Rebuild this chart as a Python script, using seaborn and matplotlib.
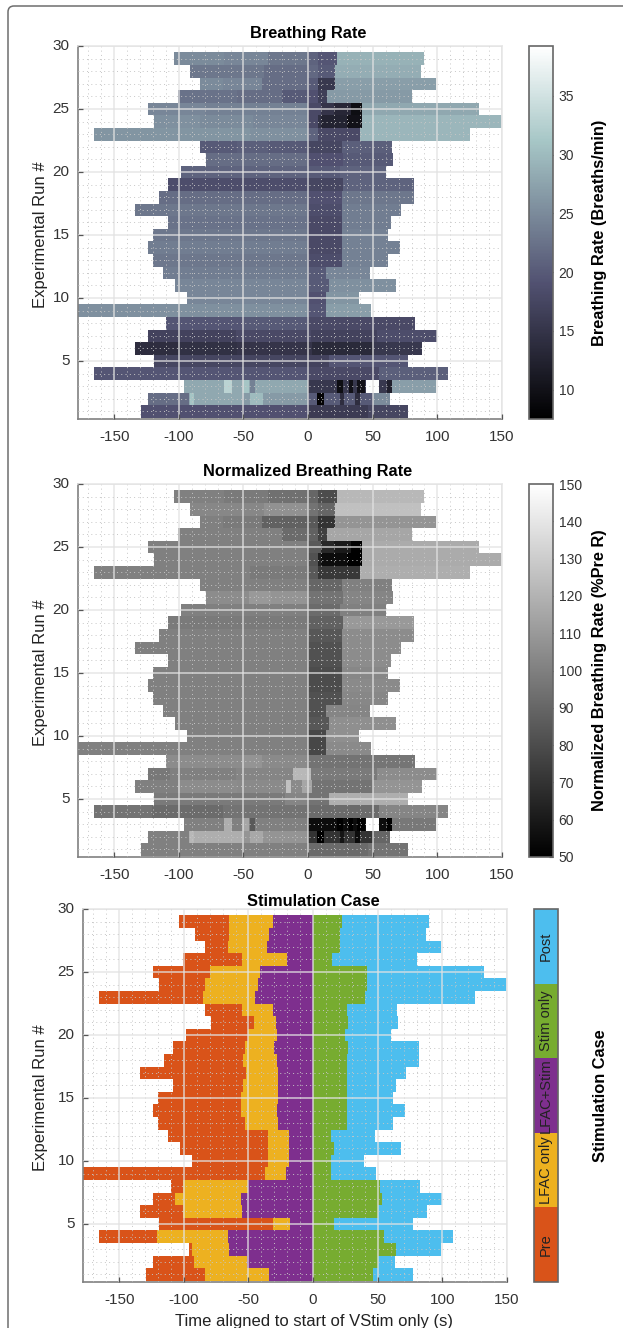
import numpy as np
import pandas as pd
import matplotlib
matplotlib.use('Agg')
import matplotlib.pyplot as plt
from matplotlib.colors import ListedColormap
from matplotlib.patches import FancyBboxPatch
import seaborn as sns

sns.set_style('white')
plt.rcParams['font.family'] = ['Liberation Sans', 'DejaVu Sans']

# run 1 to run 29, times in seconds
run_start = [-129, -124, -96, -165.5, -119, -134, -124, -109.5, -178, -94, -103, -112, -120, -124, -120,
             -108, -134, -115, -108, -98, -79, -84, -166, -119, -124, -100.5, -84, -91, -104]
pre_end = [-83.5, -92, -94, -121, -31, -100.8, -107, -100.8, -37.4, -34.5, -34.5, -34.5, -53, -55.7, -55.7,
           -53.6, -52, -54, -53, -50, -46, -55.4, -84.6, -84, -80, -55.4, -66, -65, -65]
lfac_end = [-34, -50.8, -65, -65.7, -17.5, -54.6, -56, -50, -21.4, -18.5, -19, -19, -26.5, -28, -26.5,
            -26.5, -27, -28, -29.6, -27.6, -29, -31, -44.6, -43, -41, -20, -35.6, -34, -31]
stim_end = [45.9, 50, 63.7, 54.6, 16.5, 49.7, 53.4, 52.3, 14.2, 13.7, 16.5, 14, 26, 26.3, 26.3,
            26.3, 26.3, 25.8, 27.3, 25, 27, 26.3, 40, 41.8, 42.5, 15.5, 21.4, 20.6, 22]
run_end = [77.3, 63, 99.5, 107.7, 77.3, 87.6, 100.5, 83, 49.5, 39, 68, 47.7, 62, 71.4, 62.4,
           64.4, 72, 82, 82, 60.3, 65.7, 65, 125, 150, 131.7, 80.4, 98.7, 86.9, 89.7]

# breathing rate in each phase
rate_pre = [19, 22, 28, 19.5, 17.5, 14, 17, 19.5, 25.5, 24.5, 24.5, 23.5, 23, 23.5, 23,
            22.5, 23, 22, 18.5, 21, 22, 20, 26, 25.5, 24.5, 22.5, 25, 23, 25]
rate_lfac = [19, 28, 28, 19.5, 17.5, 14.5, 17, 19.5, 25.5, 24.5, 24.5, 23.5, 23, 23.5, 23,
             22.5, 23, 22, 18.5, 21, 22, 20.5, 26, 25, 24, 22, 24.5, 23, 24.5]
rate_both = [19, 26.5, 28, 19.5, 17.5, 15, 18, 20, 25.5, 24.5, 24.5, 23.5, 23, 23.5, 23,
             22.5, 23, 22, 18.5, 21, 22, 20, 25.5, 24.5, 24, 20, 22, 22, 23]
rate_stim = [16, 20, 15.5, 18, 17, 13.5, 17, 18, 19.5, 19, 20, 20, 18.5, 18, 18,
             18, 18.5, 19, 17.5, 20, 19, 17.5, 18, 14.5, 15, 16.5, 15.5, 20, 19.5]
rate_post = [17.5, 25, 27, 20.5, 19.5, 15.5, 18.5, 18, 27, 26, 25.5, 24.5, 24, 24, 24,
             23.5, 23.5, 23, 21, 21, 20, 20.5, 29.5, 29.5, 28, 26.5, 27, 28.5, 29]

# normalized rate in each phase
norm_pre = [100, 100, 100, 95, 98, 100, 97, 105, 100, 100, 100, 100, 100, 100, 100,
            100, 100, 100, 98, 100, 105, 100, 100, 100, 100, 100, 100, 103, 100]
norm_lfac = [100, 118, 100, 92, 98, 105, 100, 105, 100, 100, 100, 100, 100, 100, 100,
             100, 100, 100, 98, 100, 110, 100, 100, 100, 100, 100, 98, 103, 98]
norm_both = [100, 108, 100, 95, 102, 104, 102, 104, 100, 100, 100, 100, 100, 100, 100,
             100, 100, 100, 98, 100, 108, 100, 98, 100, 100, 92, 88, 107, 94]
norm_stim = [92, 70, 55, 92, 95, 95, 98, 95, 78, 78, 84, 82, 82, 80, 80,
             82, 82, 84, 88, 92, 95, 90, 72, 62, 66, 75, 70, 90, 80]
norm_post = [95, 90, 97, 102, 118, 108, 105, 96, 104, 106, 106, 102, 103, 104, 103,
             105, 105, 105, 110, 100, 102, 100, 118, 117, 117, 115, 108, 125, 122]

# short bursts that sit inside a phase
spot_run = [3, 3, 3, 3, 3, 3, 3, 3, 2, 2, 2, 2, 2, 24, 25, 24, 25, 29, 28, 27, 26, 25, 24, 23, 7, 6, 6, 8]
spot_t0 = [-65, -50, -45, 22, 32, 38, 45, 61, -91, -45, 7, 25, 36, 10, 33, 30, 20, 0, 0, 0, 0, 0, 0, 0, -12, -17, -5, -50]
spot_t1 = [-59, -46, -41, 27, 35, 44, 55, 65, -88, -35, 12, 28, 40, 30, 42, 42, 33, 8, 8, 8, 8, 10, 8, 8, 2, -13, 3, -36]
spot_rate = [33, 31, 24, 9.5, 10, 10, 39, 12, 31, 30, 8, 14, 14, 12.5, 9.5, 10, 13, 21, 21.5, 20, 19, 18, 18, 21,
             18, 15, 15, 20]
spot_norm = [118, 115, 85, 50, 50, 50, 150, 50, 122, 116, 50, 58, 55, 55, 50, 50, 60, 90, 95, 85, 88, 85, 82, 85,
             122, 125, 115, 108]

case_names = ['Pre', 'LFAC only', 'LFAC+Stim', 'Stim only', 'Post']
case_colors = ['#D95319', '#EDB120', '#7E2F8E', '#77AC30', '#4DBEEE']

x_ticks = [-150, -100, -50, 0, 50, 100, 150]
y_ticks = [5, 10, 15, 20, 25, 30]
time = np.arange(-178, 150)
runs = np.arange(1, 30)
W, H = 623, 1328


def phase_table(tables):
    out = np.full((len(runs), len(time)), np.nan)
    edges = np.column_stack([run_start, pre_end, lfac_end, np.zeros(len(runs)), stim_end, run_end])
    for i in range(len(runs)):
        for p in range(5):
            on = (time + 0.5 >= edges[i, p]) & (time + 0.5 < edges[i, p + 1])
            out[i, on] = tables[p][i]
    return out


def add_spots(table, values):
    for r, a, b, v in zip(spot_run, spot_t0, spot_t1, values):
        table[r - 1, (time >= a) & (time < b)] = v
    return table


def box(l, t, r, b):
    return [l / W, 1 - b / H, (r - l) / W, (b - t) / H]


def style_axes(ax, title, left, title_pad):
    ax.set_xlim(0, len(time))
    ax.set_ylim(-0.1, 29.5)
    ax.set_xticks([v - time[0] for v in x_ticks], [str(v) for v in x_ticks], rotation=0)
    ax.set_yticks([v - 0.5 for v in y_ticks], [str(v) for v in y_ticks], rotation=0)
    ax.set_xticks(np.arange(-170, 150, 10) - time[0], minor=True)
    ax.set_yticks(np.arange(0.5, 29, 1), minor=True)
    ax.tick_params(which='major', direction='in', length=3.5, width=0.9, color='#555555',
                   labelsize=11, labelcolor='#333333', bottom=True, left=True)
    ax.tick_params(axis='x', which='major', pad=8)
    ax.tick_params(axis='y', which='major', pad=6)
    ax.tick_params(which='minor', length=0)
    ax.set_axisbelow(False)
    ax.grid(which='major', color='#e2e2e2', lw=1.1, alpha=0.85)
    ax.grid(which='minor', color='#c6c6c6', lw=0.7, ls=(0, (1, 3.4)))
    for name, spine in ax.spines.items():
        spine.set_visible(True)
        spine.set_color('#808080' if name in ('left', 'bottom') else '#e8e8e8')
        spine.set_linewidth(1.2)
    ax.set_title(title, fontsize=11.8, fontweight='bold', color='black', pad=title_pad, x=0.5425)
    ax.set_ylabel('Experimental Run #', fontsize=12, color='#222222')
    ax.yaxis.set_label_coords((48 - left) / 424, 0.493)
    ax.set_xlabel('')


def style_cbar(ax, label, ticks, pad):
    cb = ax.collections[0].colorbar
    cb.outline.set_edgecolor('#666666')
    cb.outline.set_linewidth(1.2)
    cb.set_ticks(ticks)
    cb.ax.tick_params(direction='in', length=3, width=0.8, color='#444444', labelsize=10, labelcolor='#333333', pad=4)
    cb.set_label(label, fontsize=11.8, fontweight='bold', color='black', labelpad=pad)
    return cb


rate = pd.DataFrame(add_spots(phase_table([rate_pre, rate_lfac, rate_both, rate_stim, rate_post]), spot_rate),
                    index=runs, columns=time)
norm = pd.DataFrame(add_spots(phase_table([norm_pre, norm_lfac, norm_both, norm_stim, norm_post]), spot_norm),
                    index=runs, columns=time)
case = pd.DataFrame(phase_table([[k] * len(runs) for k in range(1, 6)]), index=runs, columns=time)

fig = plt.figure(figsize=(W / 100, H / 100), dpi=100)
fig.add_artist(FancyBboxPatch((0.08, -1), 8, 14.22, boxstyle='round,pad=0,rounding_size=0.06',
                              transform=fig.dpi_scale_trans, fc='none', ec='#6e6e6e', lw=1.1))

ax1 = fig.add_axes(box(78, 46, 502, 419))
cax1 = fig.add_axes(box(529, 46, 553, 419))
sns.heatmap(rate, ax=ax1, cbar_ax=cax1, cmap='bone', vmin=7.5, vmax=39.25)
style_axes(ax1, 'Breathing Rate', 78, 6)
style_cbar(ax1, 'Breathing Rate (Breaths/min)', [10, 15, 20, 25, 30, 35], 13)

ax2 = fig.add_axes(box(78, 484, 502, 857))
cax2 = fig.add_axes(box(529, 484, 553, 857))
sns.heatmap(norm, ax=ax2, cbar_ax=cax2, cmap='gray', vmin=50, vmax=150)
style_axes(ax2, 'Normalized Breathing Rate', 78, 6)
style_cbar(ax2, 'Normalized Breathing Rate (%Pre R)', np.arange(50, 151, 10), 7)

ax3 = fig.add_axes(box(83, 909, 507, 1282))
cax3 = fig.add_axes(box(534, 909, 558, 1282))
sns.heatmap(case, ax=ax3, cbar_ax=cax3, cmap=ListedColormap(case_colors), vmin=0.5, vmax=5.5)
style_axes(ax3, 'Stimulation Case', 83, 2)
ax3.set_xlabel('Time aligned to start of VStim only (s)', fontsize=12, color='#222222', labelpad=5, x=0.545)
style_cbar(ax3, 'Stimulation Case', [], 25)
for k, name in enumerate(case_names):
    cax3.text(0.5, k + 1, name, rotation=90, ha='center', va='center', fontsize=10.5, color='#222222',
              transform=cax3.get_yaxis_transform())

fig.savefig('out.png', dpi=100)
